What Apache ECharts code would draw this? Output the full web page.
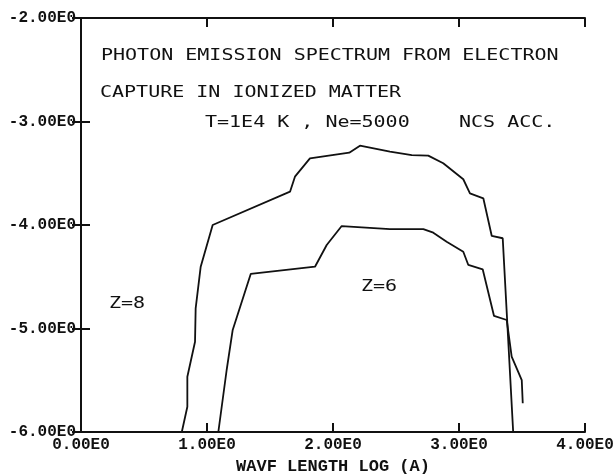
<!DOCTYPE html>
<html>
<head>
<meta charset="utf-8">
<script src="https://cdn.jsdelivr.net/npm/echarts@6/dist/echarts.min.js"></script>
<style>
  html, body { margin: 0; padding: 0; background: #fff; }
  #chart { width: 614px; height: 474px; }
</style>
</head>
<body>
<div id="chart"></div>
<script>
// tick labels
const xTickLabels = ['0.00E0', '1.00E0', '2.00E0', '3.00E0', '4.00E0']
const yTickLabels = ['-6.00E0', '-5.00E0', '-4.00E0', '-3.00E0', '-2.00E0']

// Z=8 curve (upper)
const z8X = [0.80, 0.844, 0.844, 0.905, 0.910, 0.950, 1.045, 1.659, 1.698, 1.817, 2.129, 2.214, 2.452, 2.625, 2.756, 2.875, 3.034, 3.087, 3.193, 3.260, 3.347, 3.43]
const z8Y = [-6.0, -5.756, -5.466, -5.128, -4.805, -4.403, -4.0, -3.678, -3.533, -3.356, -3.301, -3.234, -3.292, -3.324, -3.330, -3.404, -3.558, -3.694, -3.742, -4.106, -4.128, -6.0]

// Z=6 curve (lower)
const z6X = [1.09, 1.156, 1.204, 1.347, 1.857, 1.950, 2.069, 2.452, 2.717, 2.796, 2.902, 3.034, 3.074, 3.188, 3.278, 3.379, 3.418, 3.498, 3.506]
const z6Y = [-6.0, -5.401, -5.014, -4.473, -4.403, -4.193, -4.010, -4.039, -4.039, -4.074, -4.161, -4.258, -4.386, -4.428, -4.879, -4.918, -5.272, -5.498, -5.723]

const zip = (xs, ys) => xs.map((x, i) => [x, ys[i]])

const ink = '#111'
const plotFont = '16px "DejaVu Sans Mono"'
const labelFont = { fontFamily: 'Liberation Mono', fontWeight: 'bold', fontSize: 16, color: ink }

// plotter style text, stretched sideways
function plotText(text, x, y) {
    return {
        type: 'text',
        x: x,
        y: y,
        scaleX: 1.25,
        style: {
            text: text,
            font: plotFont,
            fill: ink,
            align: 'left',
            verticalAlign: 'middle',
            textAlign: 'left',
            textVerticalAlign: 'middle'
        }
    }
}

const frameLine = { show: true, lineStyle: { color: ink, width: 2 } }
const innerTick = { show: true, inside: true, length: 9, lineStyle: { color: ink, width: 2 } }

const chart = echarts.init(document.getElementById('chart'))
chart.setOption({
    animation: false,
    backgroundColor: '#fff',
    grid: { left: 81, right: 29, top: 18, bottom: 42, outerBoundsMode: 'none', containLabel: false },
    xAxis: [
        {
            type: 'value', min: 0, max: 4, interval: 1,
            position: 'bottom',
            axisLine: frameLine,
            axisTick: innerTick,
            splitLine: { show: false },
            axisLabel: Object.assign({
                margin: 5,
                formatter: (v, i) => xTickLabels[i]
            }, labelFont),
            name: 'WAVF LENGTH LOG (A)',
            nameLocation: 'middle',
            nameGap: 26,
            nameTextStyle: { fontFamily: 'Liberation Mono', fontWeight: 'bold', fontSize: 17, color: ink }
        },
        {
            type: 'value', min: 0, max: 4, interval: 1,
            position: 'top',
            axisLine: frameLine,
            axisTick: innerTick,
            splitLine: { show: false },
            axisLabel: { show: false }
        }
    ],
    yAxis: [
        {
            type: 'value', min: -6, max: -2, interval: 1,
            position: 'left',
            axisLine: frameLine,
            axisTick: innerTick,
            splitLine: { show: false },
            axisLabel: Object.assign({
                margin: 5,
                padding: [0, 0, 7, 0],
                formatter: (v, i) => yTickLabels[i]
            }, labelFont)
        },
        {
            type: 'value', min: -6, max: -2, interval: 1,
            position: 'right',
            axisLine: frameLine,
            axisTick: innerTick,
            splitLine: { show: false },
            axisLabel: { show: false }
        }
    ],
    series: [
        {
            name: 'Z=8',
            type: 'line',
            data: zip(z8X, z8Y),
            showSymbol: false,
            lineStyle: { color: ink, width: 1.8 }
        },
        {
            name: 'Z=6',
            type: 'line',
            data: zip(z6X, z6Y),
            showSymbol: false,
            lineStyle: { color: ink, width: 1.8 }
        }
    ],
    graphic: [
        plotText('PHOTON EMISSION SPECTRUM FROM ELECTRON', 101, 56),
        plotText('CAPTURE IN IONIZED MATTER', 100, 93),
        plotText('T=1E4 K , Ne=5000', 205, 123),
        plotText('NCS ACC.', 459, 123),
        plotText('Z=8', 109, 304),
        plotText('Z=6', 361, 287)
    ]
})
</script>
</body>
</html>
